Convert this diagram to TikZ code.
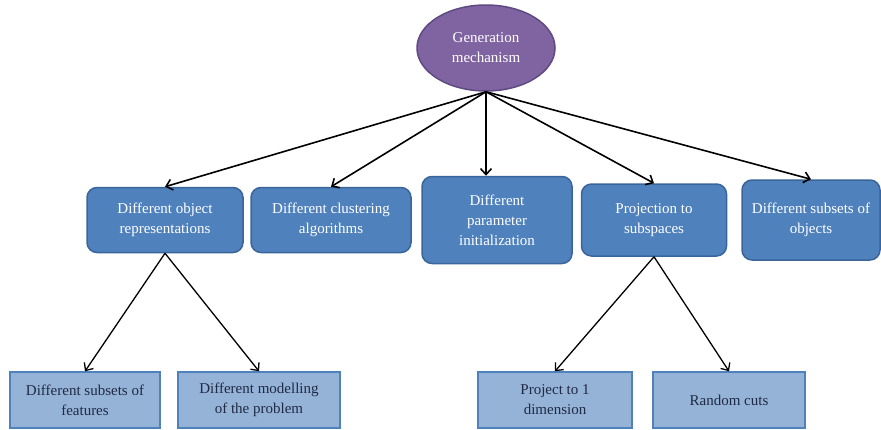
\documentclass[tikz,border=0pt]{standalone}
\usepackage{fontspec}
\setmainfont{Liberation Serif}
\usetikzlibrary{arrows.meta,shapes.geometric}

\definecolor{genfill}{HTML}{8064A2}
\definecolor{gendraw}{HTML}{5E4A80}
\definecolor{topfill}{HTML}{4F81BD}
\definecolor{topdraw}{HTML}{3A659A}
\definecolor{subfill}{HTML}{95B3D7}
\definecolor{subdraw}{HTML}{4F81BD}
\definecolor{subtext}{HTML}{1F2A44}

\begin{document}
\begin{tikzpicture}[x=1pt, y=-1pt,
	every node/.style={align=center, inner sep=0pt, font=\fontsize{15}{20}\selectfont},
	genshape/.style={ellipse, draw=gendraw, fill=genfill, line width=1.5pt, text=white, minimum width=138pt, minimum height=86pt},
	topbox/.style={rectangle, rounded corners=10pt, draw=topdraw, fill=topfill, line width=1.5pt, text=white},
	subbox/.style={rectangle, draw=subdraw, fill=subfill, line width=1.5pt, text=subtext, minimum height=56pt},
	arr/.style={-{Straight Barb[length=6pt,width=11pt]}, line width=1.6pt},
	node distance=166pt]
			\useasboundingbox (0,0) rectangle (881,429);
			
			\node[genshape] (gen) at (486,48) {Generation\\mechanism};
			
			\node[topbox, minimum width=156pt, minimum height=65pt] (obj) at (165,220) {Different object\\representations};
			\node[topbox, minimum width=160pt, minimum height=65pt, right of=obj] (clus) {Different clustering\\algorithms};
			\node[topbox, minimum width=150pt, minimum height=87pt, right of=clus] (param) {Different\\parameter\\initialization};
			\node[topbox, minimum width=145pt, minimum height=72pt, right of=param, node distance=157pt] (proj) {Projection to\\subspaces};
			\node[topbox, minimum width=138pt, minimum height=80pt, right of=proj, node distance=157pt] (objs) {Different subsets of\\objects};
			
			\node[subbox, minimum width=150pt] (feat) at (85,400) {Different subsets of\\features};
			\node[subbox, minimum width=162pt, right of=feat, node distance=174pt] (model) {Different modelling\\of the problem};
			\node[subbox, minimum width=154pt] (onedim) at (555,400) {Project to 1\\dimension};
			\node[subbox, minimum width=152pt, right of=onedim, node distance=174pt] (cuts) {Random cuts};
			
			\path (gen.south) edge[arr] (obj.north);
			\path (gen.south) edge[arr] (clus.north);
			\path (gen.south) edge[arr] (gen.south |- param.north);
			\path (gen.south) edge[arr] (proj.north);
			\path (gen.south) edge[arr] (objs.north);
			\path (obj.south) edge[arr, line width=1.3pt] (feat.north);
			\path (obj.south) edge[arr, line width=1.3pt] (model.north);
			\path (proj.south) edge[arr, line width=1.3pt] (onedim.north);
			\path (proj.south) edge[arr, line width=1.3pt] (cuts.north);
		\end{tikzpicture}
\end{document}
